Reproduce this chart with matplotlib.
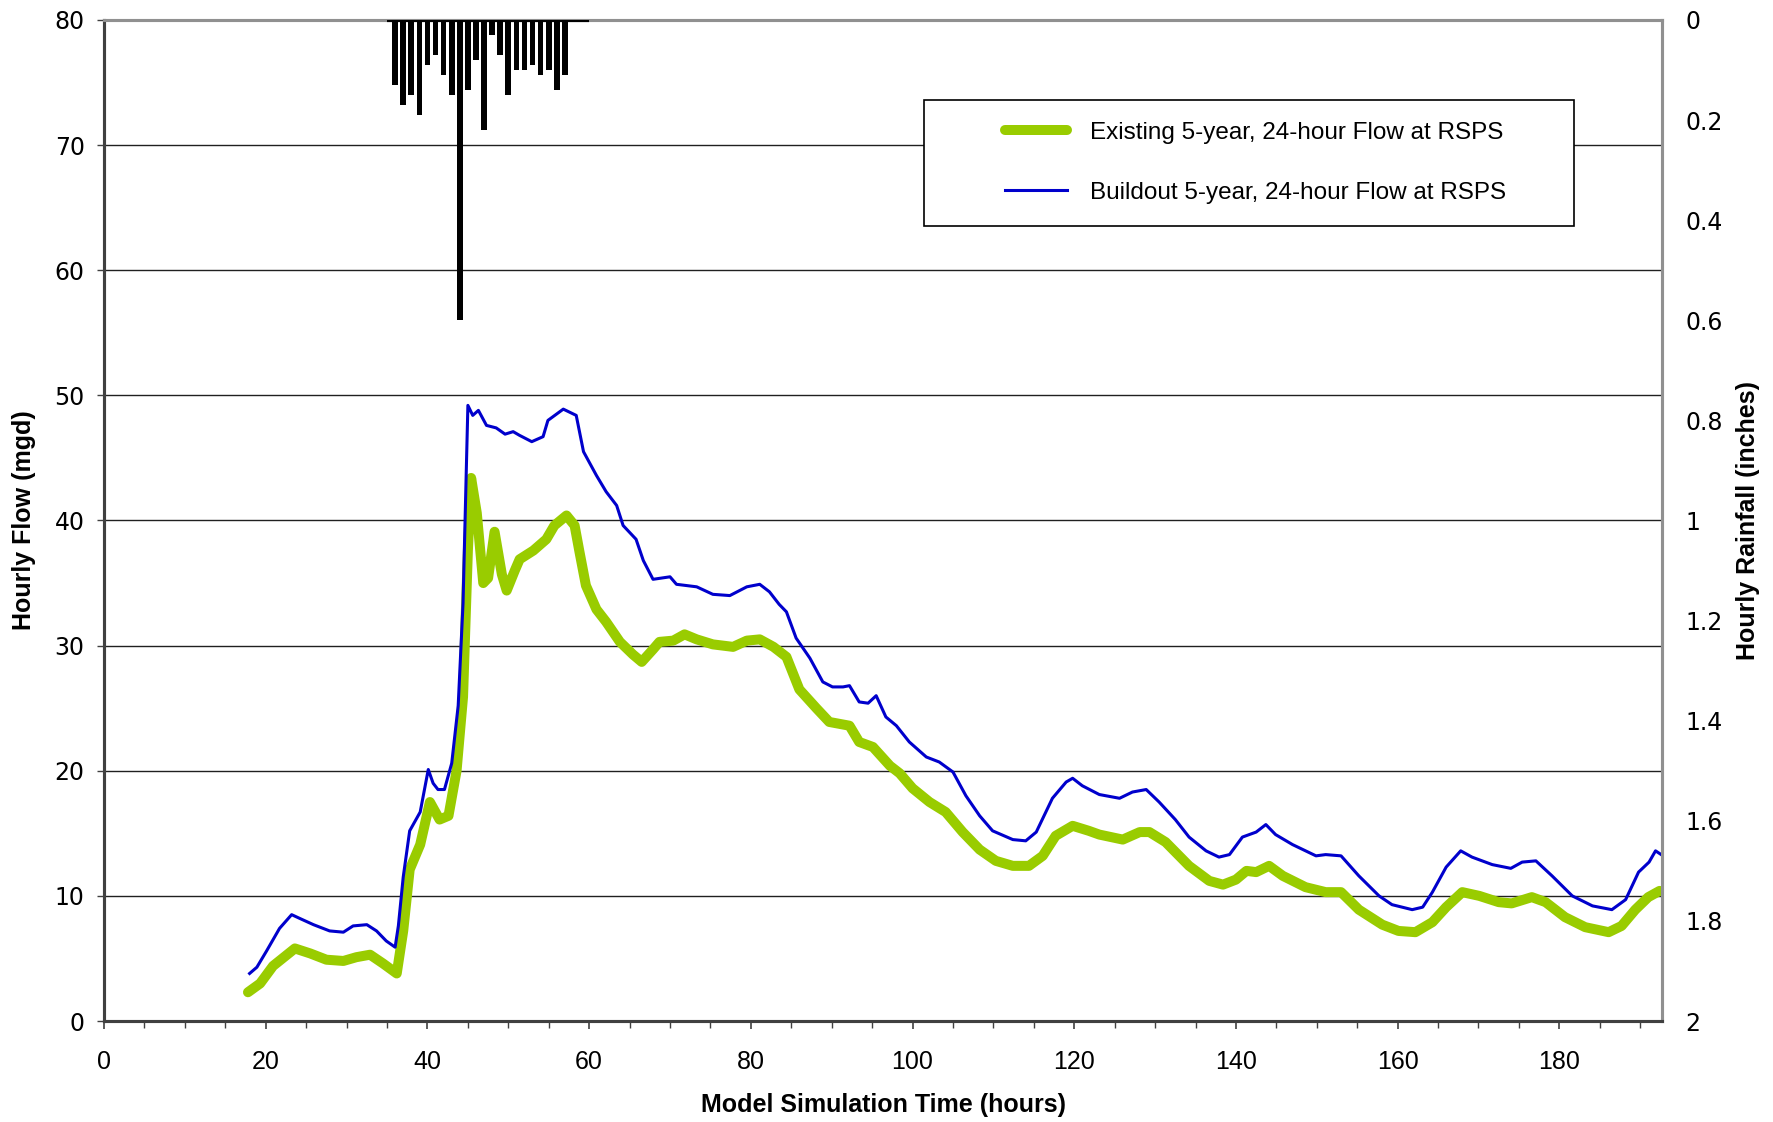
import matplotlib
matplotlib.use("Agg")
import matplotlib.pyplot as plt
from matplotlib.patches import Rectangle
from matplotlib.ticker import MultipleLocator
import numpy as np

# --- data --------------------------------------------------------------------
# Buildout flow (mgd) vs model time (hours)
buildout_hours = [18.0, 18.9, 20.1, 21.7, 23.2, 24.2, 25.9, 27.9, 29.6, 30.8, 32.5, 33.7,
                  34.9, 36.0, 36.4, 37.0, 37.8, 39.1, 40.1, 40.7, 41.3, 42.1, 43.0, 43.8,
                  44.4, 45.0, 45.6, 46.3, 47.3, 48.5, 49.6, 50.6, 51.4, 52.9, 54.3, 54.9,
                  56.8, 58.4, 59.3, 60.9, 62.1, 63.4, 64.2, 65.8, 66.7, 67.9, 70.0, 70.8,
                  73.3, 75.3, 77.4, 79.5, 81.1, 82.3, 83.5, 84.4, 85.6, 87.3, 88.9, 90.1,
                  91.4, 92.2, 93.4, 94.5, 95.5, 96.7, 98.0, 99.6, 101.7, 103.3, 105.0, 106.6,
                  108.3, 109.9, 112.4, 114.0, 115.3, 117.3, 119.0, 119.8, 121.0, 123.1, 125.6,
                  127.2, 128.9, 130.5, 132.5, 134.2, 136.3, 137.9, 139.2, 140.8, 142.5, 143.7,
                  144.9, 147.0, 149.9, 151.1, 153.0, 155.2, 157.7, 159.3, 161.8, 163.1, 164.3,
                  166.0, 167.8, 169.2, 171.7, 174.0, 175.4, 177.1, 179.1, 181.6, 184.1, 186.5,
                  188.2, 189.8, 191.1, 191.9, 192.6]
buildout_flow = [3.8, 4.3, 5.6, 7.4, 8.5, 8.2, 7.7, 7.2, 7.1, 7.6, 7.7, 7.2,
                 6.4, 5.9, 7.6, 11.5, 15.2, 16.7, 20.1, 19.0, 18.5, 18.5, 20.6, 25.2,
                 33.4, 49.2, 48.4, 48.8, 47.6, 47.4, 46.9, 47.1, 46.8, 46.3, 46.7, 48.0,
                 48.9, 48.4, 45.5, 43.6, 42.3, 41.2, 39.6, 38.5, 36.8, 35.3, 35.5, 34.9,
                 34.7, 34.1, 34.0, 34.7, 34.9, 34.3, 33.3, 32.7, 30.6, 29.0, 27.1, 26.7,
                 26.7, 26.8, 25.5, 25.4, 26.0, 24.3, 23.6, 22.3, 21.1, 20.7, 19.9, 18.0,
                 16.4, 15.2, 14.5, 14.4, 15.1, 17.8, 19.1, 19.4, 18.8, 18.1, 17.8,
                 18.3, 18.5, 17.5, 16.1, 14.7, 13.6, 13.1, 13.3, 14.7, 15.1, 15.7,
                 14.9, 14.1, 13.2, 13.3, 13.2, 11.6, 10.0, 9.3, 8.9, 9.1, 10.3,
                 12.3, 13.6, 13.1, 12.5, 12.2, 12.7, 12.8, 11.6, 10.0, 9.2, 8.9,
                 9.7, 11.9, 12.7, 13.6, 13.3]

# Existing flow (mgd) vs model time (hours)
existing_hours = [17.8, 19.3, 20.9, 23.6, 25.5, 27.5, 29.6, 31.2, 32.9, 34.5, 36.2, 37.0,
                  37.8, 39.1, 40.3, 41.5, 42.6, 43.6, 44.4, 45.0, 45.4, 46.1, 46.9, 47.5,
                  48.3, 49.2, 49.8, 50.8, 51.4, 53.1, 54.7, 55.7, 57.2, 58.2, 58.8, 59.6,
                  60.9, 62.1, 63.8, 65.4, 66.5, 67.9, 68.7, 70.4, 71.8, 73.3, 75.3, 77.8,
                  79.5, 81.1, 82.8, 84.4, 86.0, 88.1, 89.7, 92.2, 93.4, 95.1, 97.2, 98.4,
                  100.0, 102.1, 104.1, 106.2, 108.3, 110.3, 112.4, 114.4, 116.1, 117.7, 119.8,
                  121.8, 123.1, 126.0, 128.1, 129.3, 131.3, 134.2, 136.7, 138.4, 140.0, 141.3,
                  142.5, 144.1, 145.8, 148.6, 151.1, 153.0, 155.2, 158.1, 160.1, 162.2, 164.3,
                  166.0, 168.0, 170.1, 172.5, 174.1, 176.6, 178.3, 180.7, 183.2, 186.1, 187.7,
                  189.4, 191.0, 192.4]
existing_flow = [2.3, 3.0, 4.4, 5.8, 5.4, 4.9, 4.8, 5.1, 5.3, 4.6, 3.8, 7.2,
                 12.1, 14.1, 17.5, 16.1, 16.4, 20.0, 25.9, 37.6, 43.4, 40.6, 35.0, 35.4,
                 39.1, 35.7, 34.4, 36.0, 36.9, 37.6, 38.5, 39.6, 40.4, 39.6, 37.5, 34.8,
                 32.9, 31.9, 30.3, 29.3, 28.7, 29.7, 30.3, 30.4, 30.9, 30.5, 30.1, 29.9,
                 30.4, 30.5, 29.9, 29.1, 26.5, 25.0, 23.9, 23.6, 22.3, 21.9, 20.4, 19.8,
                 18.6, 17.5, 16.7, 15.1, 13.7, 12.8, 12.4, 12.4, 13.2, 14.8, 15.6,
                 15.2, 14.9, 14.5, 15.1, 15.1, 14.3, 12.4, 11.2, 10.9, 11.3, 12.0,
                 11.9, 12.4, 11.6, 10.7, 10.3, 10.3, 8.9, 7.7, 7.2, 7.1, 7.9,
                 9.1, 10.3, 10.0, 9.5, 9.4, 9.9, 9.5, 8.3, 7.5, 7.1, 7.6,
                 8.9, 9.9, 10.4]

# Hourly rainfall (inches), hours 35..60
rain_hours = list(range(35, 61))
rain_inches = [0.0, 0.13, 0.17, 0.15, 0.19, 0.09, 0.07, 0.11, 0.15, 0.60, 0.14, 0.08,
               0.22, 0.03, 0.07, 0.15, 0.10, 0.10, 0.09, 0.11, 0.10, 0.14, 0.11, 0.0,
               0.0, 0.0]
rain_ticks = ["0", "0.2", "0.4", "0.6", "0.8", "1", "1.2", "1.4", "1.6", "1.8", "2"]

existing_label = "Existing 5-year, 24-hour Flow at RSPS"
buildout_label = "Buildout 5-year, 24-hour Flow at RSPS"

plt.rcParams["font.family"] = ["Liberation Sans", "DejaVu Sans"]

fig = plt.figure(figsize=(17.73, 11.22), dpi=100)
ax = fig.add_axes([0.0587, 0.0900, 0.8787, 0.8922])
ax2 = ax.twinx()

green = "#99cc00"
blue = "#0000cc"

ax.plot(existing_hours, existing_flow, color=green, lw=7.2,
        solid_capstyle="round", solid_joinstyle="round", zorder=3)
ax.plot(buildout_hours, buildout_flow, color=blue, lw=2.2, zorder=4)

ax.set_xlim(0, 192.7)
ax.set_ylim(0, 80)
ax.xaxis.set_major_locator(MultipleLocator(20))
ax.xaxis.set_minor_locator(MultipleLocator(5))
ax.yaxis.set_major_locator(MultipleLocator(10))
ax.grid(axis="y", color="#202020", lw=1.0)
ax.set_axisbelow(True)

ax.tick_params(axis="x", which="major", direction="out", length=6, width=1.2,
               color="#404040", labelsize=18, pad=15)
ax.tick_params(axis="x", which="minor", direction="out", length=5, width=1.0,
               color="#404040")
ax.tick_params(axis="y", direction="out", length=5, width=1.0, color="#404040",
               pad=9)
for lbl in ax.get_yticklabels():
    lbl.set_family("DejaVu Sans")
    lbl.set_fontsize(17)

ax.set_xlabel("Model Simulation Time (hours)", fontweight="bold", fontsize=18)
ax.xaxis.set_label_coords(0.5, -0.072)
ax.set_ylabel("Hourly Flow (mgd)", fontweight="bold", fontsize=18)
ax.yaxis.set_label_coords(-0.0436, 0.5)

# rainfall hangs from the top on an inverted secondary axis
ax2.bar(rain_hours, rain_inches, width=0.7, color="black", zorder=3)
ax2.hlines(0, min(rain_hours), max(rain_hours), color="black", lw=3, zorder=3)
ax2.set_ylim(2, 0)
ax2.set_yticks(np.arange(0, 2.01, 0.2))
ax2.set_yticklabels(rain_ticks, family="DejaVu Sans", fontsize=17)
ax2.tick_params(axis="y", length=0, pad=17)
ax2.set_ylabel("Hourly Rainfall (inches)", fontweight="bold", fontsize=18)
ax2.yaxis.set_label_coords(1.0475, 0.5)

for a in (ax, ax2):
    a.spines["left"].set_color("#404040")
    a.spines["bottom"].set_color("#404040")
    a.spines["top"].set_color("#909090")
    a.spines["right"].set_color("#909090")
    for s in a.spines.values():
        s.set_linewidth(2.2)

# legend box
box = Rectangle((0.5263, 0.7942), 0.4172, 0.1254, transform=ax2.transAxes,
                facecolor="white", edgecolor="black", lw=1.2, zorder=10)
ax2.add_patch(box)
h1, = ax2.plot([], [], color=green, lw=7.2, solid_capstyle="round")
h2, = ax2.plot([], [], color=blue, lw=2.2)
leg = ax2.legend([h1, h2], [existing_label, buildout_label], loc="center left",
                 bbox_to_anchor=(0.5705, 0.8573), frameon=False, borderpad=0,
                 handlelength=2.55, handletextpad=0.95, labelspacing=1.55,
                 prop={"size": 17.5})
leg.set_zorder(11)

fig.savefig("out.png", dpi=100)
